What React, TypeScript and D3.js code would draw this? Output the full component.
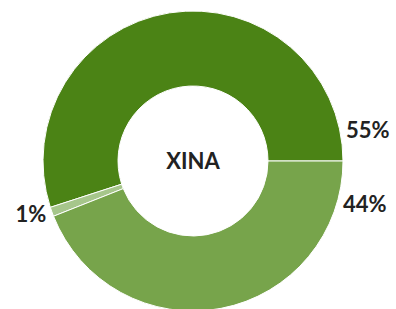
import React from 'react'
import { pie, arc } from 'd3'

const WIDTH = 396
const HEIGHT = 309

const labels = ['55%', '1%', '44%']
const values = [55, 1, 44]
const colors = ['#4b8315', '#a6c68b', '#77a44b']
const centerLabel = 'XINA'

const CX = 193
const CY = 161
const OUTER = 150
const INNER = 75

const App = () => {
  // counterclockwise from 3 o'clock: 55, 1, 44
  const slices = pie<number>()
    .sort(null)
    .startAngle(Math.PI / 2)
    .endAngle(Math.PI / 2 - Math.PI * 2)(values)

  const arcPath = arc<any>().innerRadius(INNER).outerRadius(OUTER)

  // where each label sits: right side labels hug the 3 o'clock seam
  const labelAngle = (s: any, i: number) => {
    if (i === 0) return s.startAngle - 0.2
    if (i === 2) return s.endAngle + 0.28
    return (s.startAngle + s.endAngle) / 2
  }

  const font = 'bold 22px Lato, sans-serif'

  return (
    <svg width={WIDTH} height={HEIGHT} style={{ position: 'absolute', left: 0, top: 0 }}>
      <g transform={`translate(${CX}, ${CY})`}>
        {slices.map((s, i) => (
          <path key={i} d={arcPath(s) as string} fill={colors[i]} stroke="white" strokeWidth={1} />
        ))}
        {slices.map((s, i) => {
          const a = labelAngle(s, i)
          const r = 156
          const x = r * Math.sin(a)
          const y = -r * Math.cos(a)
          return (
            <text
              key={i}
              x={x}
              y={y}
              dy="0.36em"
              textAnchor={x > 0 ? 'start' : 'end'}
              style={{ font, fill: '#222' }}
            >
              {labels[i]}
            </text>
          )
        })}
        <text x={0} y={0} dy="0.36em" textAnchor="middle" style={{ font, fill: '#222' }}>
          {centerLabel}
        </text>
      </g>
    </svg>
  )
}

export default App
